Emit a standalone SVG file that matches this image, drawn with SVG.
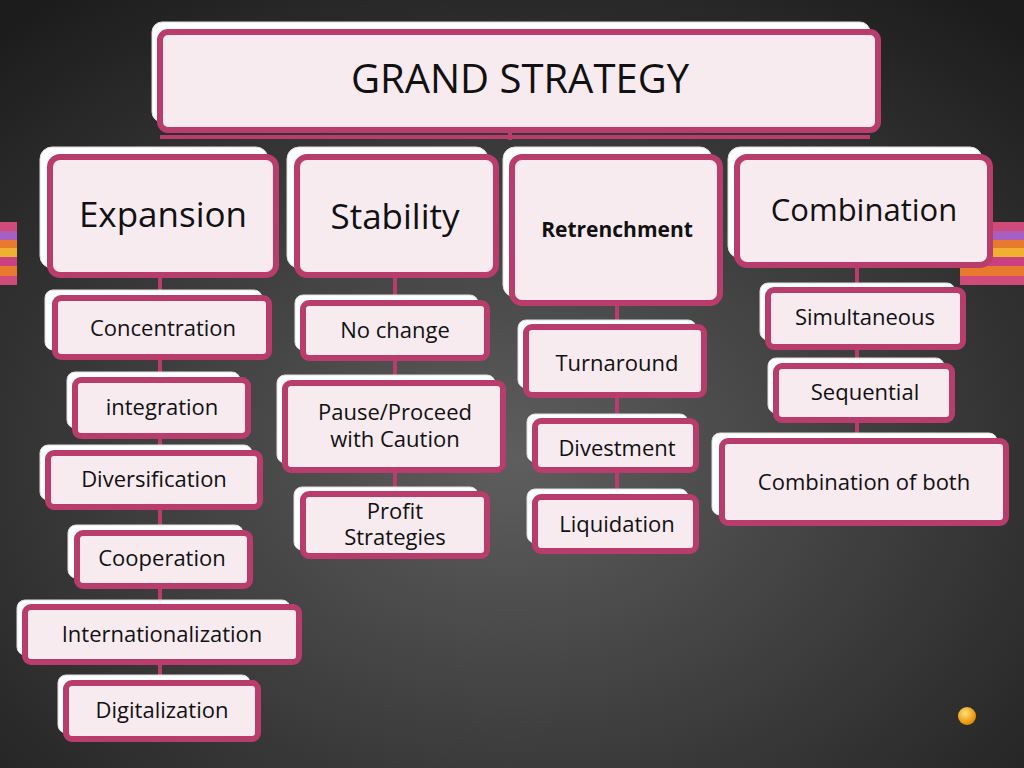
<svg xmlns="http://www.w3.org/2000/svg" width="1024" height="768" viewBox="0 0 1024 768">
<defs>
<radialGradient id="bg" cx="0.5" cy="0.6" r="0.75"><stop offset="0" stop-color="#5e5e5e"/><stop offset="1" stop-color="#1c1c1c"/></radialGradient>
<radialGradient id="dot" cx="0.4" cy="0.35" r="0.6"><stop offset="0" stop-color="#ffe07a"/><stop offset="1" stop-color="#e89000"/></radialGradient>
<linearGradient id="st" x1="0" y1="0" x2="0" y2="1">
<stop offset="0" stop-color="#d04a7a"/><stop offset="0.14" stop-color="#d04a7a"/><stop offset="0.14" stop-color="#a860c0"/><stop offset="0.28" stop-color="#a860c0"/><stop offset="0.28" stop-color="#e87a30"/><stop offset="0.42" stop-color="#e87a30"/><stop offset="0.42" stop-color="#f0b030"/><stop offset="0.56" stop-color="#f0b030"/><stop offset="0.56" stop-color="#c84080"/><stop offset="0.7" stop-color="#c84080"/><stop offset="0.7" stop-color="#e87a30"/><stop offset="0.85" stop-color="#e87a30"/><stop offset="0.85" stop-color="#d04a7a"/><stop offset="1" stop-color="#d04a7a"/></linearGradient>
</defs>
<style>
.w{fill:#ffffff;stroke:#e0dde0;stroke-width:1}
.p{fill:#f7ebf0;stroke:#b83c6c;stroke-width:6}
.c{stroke:#b83c6c;stroke-width:4;fill:none}
text{font-family:"Open Sans","Liberation Sans",sans-serif;fill:#111;text-anchor:middle}
</style>
<rect width="1024" height="768" fill="url(#bg)"/>
<rect x="0" y="222" width="17" height="63" fill="url(#st)"/>
<rect x="960" y="222" width="64" height="63" fill="url(#st)"/>
<circle cx="967" cy="716" r="9" fill="url(#dot)"/>
<g id="connectors">
<line class="c" x1="510" y1="132" x2="510" y2="140"/>
<line class="c" x1="160" y1="137" x2="870" y2="137"/>
<line class="c" x1="160" y1="275" x2="160" y2="690"/>
<line class="c" x1="395" y1="275" x2="395" y2="500"/>
<line class="c" x1="617" y1="303" x2="617" y2="500"/>
<line class="c" x1="857" y1="265" x2="857" y2="445"/>
</g>
<g id="grand"><rect class="w" x="152" y="22" width="718" height="100" rx="10"/><rect class="p" x="160" y="32" width="718" height="98" rx="8"/><text x="520" y="93" font-size="40">GRAND STRATEGY</text></g>
<g id="expansion"><rect class="w" x="40" y="147" width="228" height="121" rx="12"/><rect class="p" x="50" y="157" width="226" height="118" rx="10"/><text x="163" y="227" font-size="35">Expansion</text></g>
<g id="stability"><rect class="w" x="287" y="147" width="201" height="121" rx="12"/><rect class="p" x="297" y="157" width="199" height="118" rx="10"/><text x="395" y="229" font-size="35">Stability</text></g>
<g id="retrenchment"><rect class="w" x="503" y="147" width="209" height="150" rx="12"/><rect class="p" x="512" y="157" width="208" height="146" rx="10"/><text x="617" y="237" font-size="21" font-weight="bold">Retrenchment</text></g>
<g id="combination"><rect class="w" x="728" y="147" width="254" height="111" rx="12"/><rect class="p" x="737" y="157" width="253" height="108" rx="10"/><text x="864" y="221" font-size="31">Combination</text></g>
<g id="concentration"><rect class="w" x="45" y="290" width="217" height="60" rx="8"/><rect class="p" x="55" y="298" width="214" height="59" rx="6"/><text x="163" y="336" font-size="22">Concentration</text></g>
<g id="integration"><rect class="w" x="67" y="372" width="173" height="56" rx="8"/><rect class="p" x="75" y="380" width="173" height="56" rx="6"/><text x="162" y="415" font-size="22">integration</text></g>
<g id="diversification"><rect class="w" x="40" y="445" width="212" height="55" rx="8"/><rect class="p" x="48" y="453" width="212" height="54" rx="6"/><text x="154" y="487" font-size="22">Diversification</text></g>
<g id="cooperation"><rect class="w" x="68" y="525" width="175" height="53" rx="8"/><rect class="p" x="77" y="533" width="173" height="53" rx="6"/><text x="162" y="566" font-size="22">Cooperation</text></g>
<g id="internationalization"><rect class="w" x="17" y="600" width="273" height="55" rx="8"/><rect class="p" x="25" y="607" width="274" height="55" rx="6"/><text x="162" y="642" font-size="22">Internationalization</text></g>
<g id="digitalization"><rect class="w" x="58" y="675" width="192" height="58" rx="8"/><rect class="p" x="66" y="683" width="192" height="56" rx="6"/><text x="162" y="718" font-size="22">Digitalization</text></g>
<g id="nochange"><rect class="w" x="295" y="295" width="183" height="55" rx="8"/><rect class="p" x="303" y="303" width="184" height="55" rx="6"/><text x="395" y="338" font-size="22">No change</text></g>
<g id="pause"><rect class="w" x="277" y="375" width="218" height="88" rx="8"/><rect class="p" x="285" y="383" width="218" height="87" rx="6"/><text x="395" y="420" font-size="22">Pause/Proceed</text><text x="395" y="447" font-size="22">with Caution</text></g>
<g id="profit"><rect class="w" x="294" y="487" width="184" height="63" rx="8"/><rect class="p" x="303" y="494" width="184" height="62" rx="6"/><text x="395" y="519" font-size="22">Profit</text><text x="395" y="545" font-size="22">Strategies</text></g>
<g id="turnaround"><rect class="w" x="518" y="320" width="178" height="68" rx="8"/><rect class="p" x="526" y="327" width="178" height="68" rx="6"/><text x="617" y="371" font-size="22">Turnaround</text></g>
<g id="divestment"><rect class="w" x="527" y="414" width="161" height="48" rx="8"/><rect class="p" x="535" y="421" width="161" height="49" rx="6"/><text x="617" y="456" font-size="22">Divestment</text></g>
<g id="liquidation"><rect class="w" x="527" y="489" width="161" height="54" rx="8"/><rect class="p" x="535" y="497" width="161" height="54" rx="6"/><text x="617" y="532" font-size="22">Liquidation</text></g>
<g id="simultaneous"><rect class="w" x="760" y="283" width="195" height="57" rx="8"/><rect class="p" x="768" y="290" width="195" height="57" rx="6"/><text x="865" y="325" font-size="22">Simultaneous</text></g>
<g id="sequential"><rect class="w" x="768" y="358" width="176" height="55" rx="8"/><rect class="p" x="776" y="366" width="176" height="54" rx="6"/><text x="865" y="400" font-size="22">Sequential</text></g>
<g id="combboth"><rect class="w" x="712" y="433" width="285" height="82" rx="8"/><rect class="p" x="722" y="441" width="284" height="82" rx="6"/><text x="864" y="490" font-size="22">Combination of both</text></g>
</svg>
